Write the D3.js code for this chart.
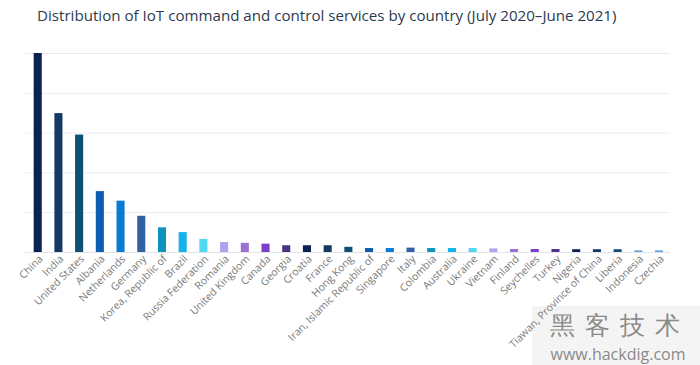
<!DOCTYPE html>
<html>
<head>
<meta charset="utf-8">
<script src="https://cdn.jsdelivr.net/npm/d3@7"></script>
<style>
  body { margin: 0; background: #fff; }
  text { font-family: "Open Sans", "Noto Sans", sans-serif; }
</style>
</head>
<body>
<div id="chart"></div>
<script>
// data (arbitrary units, top gridline = 5)
var countries = ["China", "India", "United States", "Albania", "Netherlands", "Germany",
  "Korea, Republic of", "Brazil", "Russia Federation", "Romania", "United Kingdom", "Canada",
  "Georgia", "Croatia", "France", "Hong Kong", "Iran, Islamic Republic of", "Singapore",
  "Italy", "Colombia", "Australia", "Ukraine", "Vietnam", "Finland", "Seychelles", "Turkey",
  "Nigeria", "Tiawan, Province of China", "Liberia", "Indonesia", "Czechia"];
var values = [5.0, 3.49, 2.95, 1.53, 1.29, 0.91, 0.62, 0.5, 0.33, 0.25, 0.23, 0.21,
  0.17, 0.17, 0.17, 0.13, 0.1, 0.1, 0.11, 0.1, 0.1, 0.1, 0.09, 0.075, 0.075, 0.075,
  0.07, 0.07, 0.07, 0.04, 0.04];
var gridTicks = [0, 1, 2, 3, 4, 5];
var palette = ["#0b2150", "#143a62", "#0e4f74", "#0b5fae", "#0b7ad3", "#3160a4",
  "#0d93bf", "#14b4ea", "#52d8f0", "#b3a0f2", "#9b72d2", "#7c40c6", "#4d3284"];

const Width = 700, Height = 365;
const svg = d3.select("#chart").append("svg").attr("width", Width).attr("height", Height);

// watermark (drawn first so the labels sit over it)
var wm = svg.append("g");
wm.append("rect").attr("x", 532).attr("y", 306).attr("width", 168).attr("height", 59).attr("fill", "#f4f4f4");
wm.append("text").attr("x", 620).attr("y", 334).attr("text-anchor", "middle")
  .attr("font-family", "Noto Sans CJK SC").attr("font-size", 25).attr("fill", "#8a8a8a")
  .attr("letter-spacing", 10).text("黑客技术");
wm.append("text").attr("x", 618).attr("y", 360).attr("text-anchor", "middle")
  .attr("font-size", 16).attr("fill", "#8a8a8a").text("www.hackdig.com");

// title, sized to span like the original
var title = svg.append("text").attr("x", 37).attr("y", 21)
  .attr("fill", "#2c3a50").attr("font-size", 14)
  .text("Distribution of IoT command and control services by country (July 2020\u2013June 2021)");
var tw = title.node().getComputedTextLength();
title.attr("font-size", 14 * 580 / tw);

const pLeft = 27.35, pRight = 669.4, pTop = 53, pBottom = 252;
var xScale = d3.scaleBand().domain(countries).range([pLeft, pRight]).paddingInner(0.61).paddingOuter(0.305);
var yScale = d3.scaleLinear().domain([0, 5]).range([pBottom, pTop]);

// gridlines
svg.append("g").selectAll("line").data(gridTicks).enter().append("line")
  .attr("x1", 25).attr("x2", 670)
  .attr("y1", d => yScale(d) + 0.5).attr("y2", d => yScale(d) + 0.5)
  .attr("stroke", d => d === 0 ? "#e2e6ea" : "#ececec").attr("stroke-width", 1);

// bars
svg.append("g").selectAll("rect").data(values).enter().append("rect")
  .attr("x", (d, i) => xScale(countries[i]))
  .attr("y", d => yScale(d))
  .attr("width", xScale.bandwidth())
  .attr("height", d => yScale(0) - yScale(d))
  .attr("fill", (d, i) => i >= 29 ? "#5e9fd6" : palette[i % palette.length]);

// x labels
var xAxis = d3.axisBottom(xScale).tickSize(0).tickPadding(0);
var gx = svg.append("g").attr("transform", "translate(0," + (pBottom + 5) + ")").call(xAxis);
gx.select(".domain").remove();
gx.selectAll("text")
  .attr("font-size", 10.5).attr("fill", "#7a7a7a")
  .attr("text-anchor", "end")
  .attr("dy", "0.35em")
  .attr("transform", "translate(3,0) rotate(-45)");
</script>
</body>
</html>
